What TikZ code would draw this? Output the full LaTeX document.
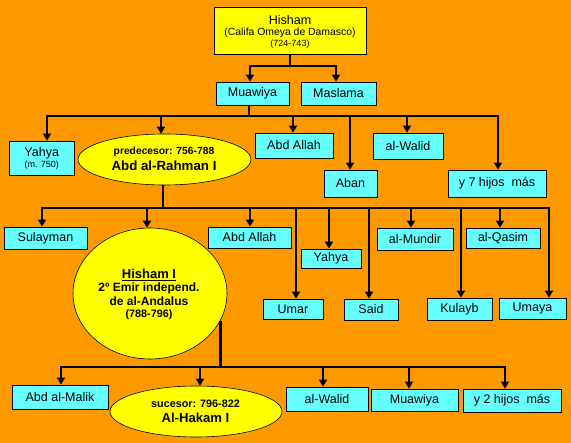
\documentclass[tikz,border=0pt]{standalone}
\usepackage{fontspec}
\setmainfont{Liberation Sans}
\usetikzlibrary{arrows.meta,shapes.geometric}
\definecolor{bg}{HTML}{FF9900}
\definecolor{cy}{HTML}{66FFFF}
\definecolor{yl}{HTML}{FFFF00}
\begin{document}
\begin{tikzpicture}[x=1pt,y=-1pt,
 box/.style={draw=black, line width=0.8pt, fill=cy, inner sep=0pt, font=\fontsize{12.5}{14}\selectfont},
 ybox/.style={draw=black, line width=0.8pt, fill=yl, inner sep=0pt},
 oval/.style={ellipse, draw=black, line width=0.6pt, fill=yl, inner sep=0pt},
 txt/.style={anchor=base, inner sep=0pt},
 ln/.style={line width=2.2pt, draw=black},
 arr/.style={ln, -{Triangle[width=8pt,length=7pt]}}
]
\fill[bg] (0,0) rectangle (571,443);
\useasboundingbox (0,0) rectangle (571,443);

% ---- level 0
\node[ybox, minimum width=152pt, minimum height=47pt] (hisham) at (290,30.5) {};
\node[txt, font=\fontsize{12.5}{14}\selectfont] (hishamT1) at (290,25) {Hisham};
\node[txt, font=\fontsize{10.4}{12}\selectfont] (hishamT2) at (290,36) {(Califa Omeya de Damasco)};
\node[txt, font=\fontsize{9}{11}\selectfont] (hishamT3) at (290,47) {(724-743)};

% ---- level 1
\node[box, minimum width=73pt, minimum height=23pt] (muawiya) at (252.5,93.5) {Muawiya};
\node[box, minimum width=75pt, minimum height=23pt] (maslama) at (338.5,93.5) {Maslama};

% ---- level 2
\node[box, minimum width=65pt, minimum height=34pt] (yahyaA) at (41.5,158) {};
\node[txt, font=\fontsize{12.5}{14}\selectfont] (yahyaAT1) at (41.7,157) {Yahya};
\node[txt, font=\fontsize{9}{11}\selectfont] (yahyaAT2) at (41.7,168) {(m. 750)};
\node[oval, minimum width=173pt, minimum height=51pt] (rahman) at (164.5,159.5) {};
\node[txt, font=\bfseries\fontsize{10.3}{12}\selectfont] (rahmanT1) at (164,155) {predecesor: 756-788};
\node[txt, font=\bfseries\fontsize{13.3}{15}\selectfont] (rahmanT2) at (164,171) {Abd al-Rahman I};
\node[box, minimum width=78pt, minimum height=25pt] (abdallahA) at (294,145.5) {Abd Allah};
\node[box, minimum width=53pt, minimum height=27pt] (aban) at (350.5,183.5) {Aban};
\node[box, minimum width=70pt, minimum height=26pt] (walidA) at (408,146) {al-Walid};
\node[box, minimum width=98pt, minimum height=27pt] (ysiete) at (497,183.5) {y 7 hijos\ \ más};

% ---- level 3
\node[box, minimum width=83pt, minimum height=22pt] (sulayman) at (45.5,238) {Sulayman};
\node[oval, minimum width=154pt, minimum height=131pt] (hishamI) at (150,293.5) {};
\node[txt, font=\bfseries\fontsize{13}{15}\selectfont] (hishamIT1) at (149,279) {\underline{Hisham I}};
\node[txt, font=\bfseries\fontsize{12}{14}\selectfont] (hishamIT2) at (149,292) {2º Emir independ.};
\node[txt, font=\bfseries\fontsize{12}{14}\selectfont] (hishamIT3) at (149,306) {de al-Andalus};
\node[txt, font=\bfseries\fontsize{10.8}{13}\selectfont] (hishamIT4) at (149,318) {(788-796)};
\node[box, minimum width=83pt, minimum height=21pt] (abdallahB) at (249.5,237.5) {Abd Allah};
\node[box, minimum width=60pt, minimum height=20pt] (umar) at (293,309) {Umar};
\node[box, minimum width=60pt, minimum height=19pt] (yahyaB) at (331,258.5) {Yahya};
\node[box, minimum width=54pt, minimum height=21pt] (said) at (371,309.5) {Said};
\node[box, minimum width=76pt, minimum height=22pt] (mundir) at (415,239) {al-Mundir};
\node[box, minimum width=65pt, minimum height=22pt] (kulayb) at (459.5,309) {Kulayb};
\node[box, minimum width=74pt, minimum height=20pt] (qasim) at (503,238) {al-Qasim};
\node[box, minimum width=67pt, minimum height=21pt] (umaya) at (532.5,308.5) {Umaya};

% ---- level 4
\node[box, minimum width=96pt, minimum height=24pt] (malik) at (60,397) {Abd al-Malik};
\node[oval, minimum width=172pt, minimum height=51pt] (hakam) at (196,411.5) {};
\node[txt, font=\bfseries\fontsize{10.8}{13}\selectfont] (hakamT1) at (195.5,407.7) {sucesor: 796-822};
\node[txt, font=\bfseries\fontsize{13.1}{15}\selectfont] (hakamT2) at (195.5,423) {Al-Hakam I};
\node[box, minimum width=82pt, minimum height=24pt] (walidB) at (327,399) {al-Walid};
\node[box, minimum width=87pt, minimum height=22pt] (muawiyaB) at (414.5,400) {Muawiya};
\node[box, minimum width=98pt, minimum height=23pt] (ydos) at (512,400.5) {y 2 hijos\ \ más};

% ---- bar levels
\coordinate (bar0) at (0,66);
\coordinate (bar1) at (0,116);
\coordinate (bar2) at (0,208);
\coordinate (bar3) at (0,367);

% ---- arrow targets (on the children's top edges)
\coordinate (muawiyaA) at ([xshift=-2.5pt]muawiya.north);
\coordinate (maslamaA) at ([xshift=-2.5pt]maslama.north);
\coordinate (yahyaAA) at ([xshift=5.5pt]yahyaA.north);
\coordinate (rahmanA) at ([xshift=-3.5pt]rahman.north);
\coordinate (abdallahAA) at ([xshift=-1pt]abdallahA.north);
\coordinate (abanA) at ([xshift=-0.5pt]aban.north);
\coordinate (walidAA) at ([xshift=-1pt]walidA.north);
\coordinate (ysieteA) at ([xshift=1pt]ysiete.north);
\coordinate (sulaymanA) at ([xshift=-3.5pt]sulayman.north);
\coordinate (hishamIA) at ([xshift=-3pt]hishamI.north);
\coordinate (abdallahBA) at ([xshift=0.5pt]abdallahB.north);
\coordinate (umarA) at ([xshift=3pt]umar.north);
\coordinate (yahyaBA) at ([xshift=-2pt]yahyaB.north);
\coordinate (saidA) at ([xshift=-2pt]said.north);
\coordinate (mundirA) at ([xshift=-4pt]mundir.north);
\coordinate (kulaybA) at ([xshift=1.5pt]kulayb.north);
\coordinate (qasimA) at ([xshift=-3pt]qasim.north);
\coordinate (umayaA) at ([xshift=16.5pt]umaya.north);
\coordinate (malikA) at ([xshift=1pt]malik.north);
\coordinate (hakamA) at ([xshift=4pt]hakam.north);
\coordinate (walidBA) at ([xshift=-4pt]walidB.north);
\coordinate (muawiyaBA) at ([xshift=-5.5pt]muawiyaB.north);
\coordinate (ydosA) at ([xshift=-7pt]ydos.north);

% ---- stems from parents
\coordinate (rahmanS) at ([xshift=-1.5pt]rahman.south);
\coordinate (muawiyaS) at ([xshift=-3.5pt]muawiya.south);
\coordinate (hishamIS) at (hishamI.-21.3);
\draw[ln] (hisham.south) -- (hisham.south |- bar0);
\draw[ln] (muawiyaS) -- (muawiyaS |- bar1);
\draw[ln] (rahmanS) -- (rahmanS |- bar2);
\draw[ln] (hishamIS) -- (hishamIS |- bar3);

% ---- horizontal bars
\draw[ln, line cap=rect] (bar0 -| muawiyaA) -- (bar0 -| maslamaA);
\draw[ln, line cap=rect] (bar1 -| yahyaAA) -- (bar1 -| ysieteA);
\draw[ln, line cap=rect] (bar2 -| sulaymanA) -- (bar2 -| umayaA);
\draw[ln, line cap=rect] (bar3 -| malikA) -- (bar3 -| ydosA);

% ---- arrows to children
\foreach \c in {muawiyaA,maslamaA}{\draw[arr] (bar0 -| \c) -- (\c);}
\foreach \c in {yahyaAA,rahmanA,abdallahAA,abanA,walidAA,ysieteA}{\draw[arr] (bar1 -| \c) -- (\c);}
\foreach \c in {sulaymanA,hishamIA,abdallahBA,umarA,yahyaBA,saidA,mundirA,kulaybA,qasimA,umayaA}{\draw[arr] (bar2 -| \c) -- (\c);}
\foreach \c in {malikA,hakamA,walidBA,muawiyaBA,ydosA}{\draw[arr] (bar3 -| \c) -- (\c);}
\end{tikzpicture}
\end{document}
